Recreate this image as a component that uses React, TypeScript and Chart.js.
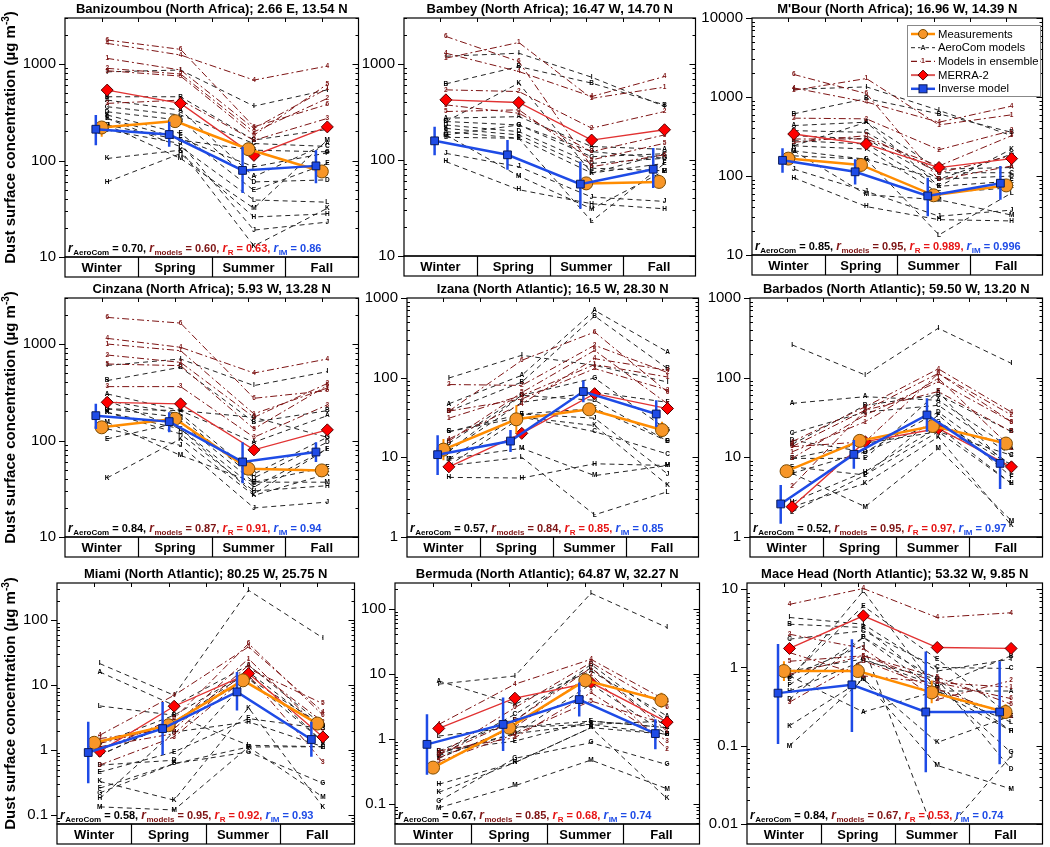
import React, { useEffect, useRef } from "react";
import { Chart, registerables } from "chart.js";
Chart.register(...registerables);

// ---------------- shared labels ----------------
const seasons = ["Winter", "Spring", "Summer", "Fall"];
const aeroComLetters = ["A", "B", "C", "D", "E", "F", "G", "H", "I", "J", "K", "L", "M"];
const ensembleLabels = ["1", "2", "3", "4", "5", "6"];

// ---------------- Banizoumbou ----------------
const banizoumbouMeas = [220, 256, 131, 77];
const banizoumbouMeasErr = [[176, 252], null, null, null];
const banizoumbouIM = [211, 186, 79, 88];
const banizoumbouIMErr = [[144, 296], [139, 252], [46, 139], [58, 128]];
const banizoumbouMerra = [537, 391, 113, 223];
const banizoumbouEnsemble = [
  [1145, 867, 215, 558],
  [902, 788, 198, 440],
  [391, 423, 162, 273],
  [1637, 1240, 682, 953],
  [852, 750, 183, 619],
  [1775, 1419, 224, 381],
];
const banizoumbouAeroCom = [
  [423, 333, 68, 150],
  [458, 458, 163, 210],
  [361, 296, 150, 140],
  [320, 262, 60, 63],
  [296, 191, 49, 93],
  [273, 169, 86, 120],
  [233, 163, 128, 123],
  [60, 118, 26, 28],
  [830, 867, 366, 540],
  [207, 150, 19, 23],
  [105, 128, 13, 32],
  [273, 139, 39, 37],
  [233, 105, 32, 163],
];
const banizoumbouR = ["0.70", "0.60", "0.63", "0.86"];

// ---------------- Bambey ----------------
const bambeyMeas = [null, null, 57, 59];
const bambeyMeasErr = [null, null, null, [52, 70]];
const bambeyIM = [158, 113, 56, 80];
const bambeyIMErr = [[112, 222], [79, 161], [31, 96], [51, 133]];
const bambeyMerra = [422, 396, 161, 206];
const bambeyEnsemble = [
  [1146, 1668, 437, 572],
  [536, 515, 214, 319],
  [374, 306, 122, 182],
  [1290, 832, 457, 738],
  [319, 332, 100, 149],
  [1928, 1057, 85, 113],
];
const bambeyAeroCom = [
  [272, 282, 138, 129],
  [619, 937, 630, 374],
  [251, 231, 108, 116],
  [231, 197, 92, 104],
  [213, 182, 82, 77],
  [197, 168, 73, 92],
  [182, 231, 122, 104],
  [96, 49, 35, 31],
  [1200, 1290, 726, 360],
  [117, 85, 41, 37],
  [251, 630, 73, 116],
  [172, 168, 23, 92],
  [182, 68, 31, 77],
];

// ---------------- M'Bour ----------------
const mbourMeas = [166, 138, 57, 76];
const mbourMeasErr = [null, null, null, null];
const mbourIM = [158, 113, 56, 81];
const mbourIMErr = [[110, 225], [78, 163], [31, 95], [50, 134]];
const mbourMerra = [340, 254, 128, 166];
const mbourEnsemble = [
  [1216, 1714, 443, 595],
  [540, 529, 215, 375],
  [294, 294, 134, 324],
  [1303, 864, 480, 767],
  [267, 324, 110, 180],
  [1928, 1104, 90, 134],
];
const mbourAeroCom = [
  [435, 480, 122, 128],
  [612, 953, 612, 357],
  [375, 357, 110, 110],
  [324, 294, 91, 100],
  [280, 254, 74, 86],
  [241, 219, 61, 71],
  [208, 163, 91, 189],
  [95, 41, 28, 27],
  [1250, 1343, 676, 324],
  [122, 64, 31, 37],
  [241, 480, 74, 219],
  [180, 163, 18, 61],
  [208, 58, 50, 32],
];
const mbourR = ["0.85", "0.95", "0.989", "0.996"];

// ---------------- Cinzana ----------------
const cinzanaMeas = [137, 168, 51, 49];
const cinzanaMeasErr = [null, null, null, [44, 56]];
const cinzanaIM = [181, 157, 60, 76];
const cinzanaIMErr = [[132, 240], [122, 196], [36, 96], [60, 96]];
const cinzanaMerra = [249, 240, 80, 129];
const cinzanaEnsemble = [
  [1000, 853, 189, 350],
  [769, 646, 174, 390],
  [362, 362, 108, 234],
  [1145, 925, 501, 700],
  [621, 597, 132, 371],
  [1888, 1648, 274, 329],
];
const cinzanaAeroCom = [
  [304, 204, 96, 181],
  [418, 574, 155, 204],
  [259, 189, 45, 108],
  [213, 174, 41, 96],
  [104, 155, 37, 53],
  [196, 132, 33, 82],
  [213, 204, 174, 108],
  [196, 117, 30, 34],
  [600, 700, 371, 518],
  [132, 89, 20, 23],
  [41, 104, 27, 45],
  [259, 132, 28, 82],
  [155, 70, 37, 37],
];
const cinzanaR = ["0.84", "0.87", "0.91", "0.94"];

// ---------------- Izana ----------------
const izanaMeas = [12.5, 30, 40, 22];
const izanaMeasErr = [[9.2, 17], [20, 45], [36, 45], [18, 28]];
const izanaIM = [10.8, 16, 67, 35];
const izanaIMErr = [[6, 19], [11.7, 22], [49, 92], [24, 52]];
const izanaMerra = [7.6, 20, 63, 41];
const izanaEnsemble = [
  [31, 60, 146, 102],
  [82, 80, 255, 116],
  [38, 54, 130, 70],
  [17, 47, 173, 124],
  [16, 65, 220, 47],
  [38, 165, 374, 66],
];
const izanaAeroCom = [
  [47, 107, 700, 210],
  [38, 88, 594, 130],
  [21, 32, 21, 11],
  [15, 60, 52, 16],
  [21, 35, 41, 16],
  [12, 49, 66, 49],
  [12, 60, 99, 22],
  [5.6, 5.5, 8.3, 7.9],
  [99, 191, 143, 88],
  [9.6, 35, 31, 6.2],
  [7.9, 32, 25, 4.5],
  [7.9, 10, 1.9, 3.7],
  [9.6, 13, 5.9, 7.9],
];
const izanaR = ["0.57", "0.84", "0.85", "0.85"];

// ---------------- Barbados ----------------
const barbadosMeas = [6.7, 16.1, 24.7, 14.9];
const barbadosMeasErr = [null, null, null, null];
const barbadosIM = [2.6, 10.9, 34, 8.4];
const barbadosIMErr = [[1.47, 4.5], [7.2, 16.5], [21, 55], [4, 17]];
const barbadosMerra = [2.4, 15.7, 23, 7.6];
const barbadosEnsemble = [
  [11.7, 28, 98, 13.2],
  [4.3, 39, 113, 34],
  [9.7, 34, 89, 28],
  [15.7, 43, 129, 37],
  [13.6, 39, 67, 21],
  [13.6, 15.7, 113, 28],
];
const barbadosAeroCom = [
  [47.6, 57.7, 52, 12.9],
  [14.5, 45, 61, 21],
  [20, 37, 45, 10.6],
  [16.4, 11.7, 37, 8],
  [9.7, 9.7, 66.8, 6.6],
  [7.6, 6, 34, 5.7],
  [6.3, 11.7, 28, 8],
  [2.75, 6.6, 24, 4.7],
  [258, 108, 417, 151],
  [9.7, 15, 21, 10.6],
  [2.4, 4.7, 18, 1.4],
  [2.06, 6, 21, 4.7],
  [6.3, 2.4, 12.9, 1.6],
];
const barbadosR = ["0.52", "0.95", "0.97", "0.97"];

// ---------------- Miami ----------------
const miamiMeas = [1.3, 2.42, 11.9, 2.57];
const miamiMeasErr = [null, null, null, null];
const miamiIM = [0.92, 2.15, 7.9, 1.46];
const miamiIMErr = [[0.31, 2.73], [0.84, 5.5], [4.1, 16], [0.79, 2.73]];
const miamiMerra = [0.96, 4.75, 15.1, 1.6];
const miamiEnsemble = [
  [1.27, 2.42, 25.6, 1.9],
  [1.51, 2.15, 20.3, 2.73],
  [0.59, 1.6, 14.3, 0.66],
  [1.7, 7, 39, 3.9],
  [1.13, 1.8, 18, 5.2],
  [1, 3.07, 43.8, 3.46],
];
const miamiAeroCom = [
  [16, 4.9, 20.3, 2.42],
  [1.27, 3.45, 16, 2.15],
  [0.84, 2.73, 12.7, 1.34],
  [0.59, 0.7, 12.7, 2.42],
  [0.46, 0.94, 3.07, 2.15],
  [0.26, 0.62, 1.12, 1.13],
  [0.22, 0.62, 0.94, 0.31],
  [0.18, 1.9, 2.73, 1.13],
  [21.5, 7, 290, 53.5],
  [0.84, 2.73, 16, 1.34],
  [0.33, 0.17, 4.5, 0.134],
  [4.8, 3.45, 1.19, 1.13],
  [0.134, 0.12, 1.12, 0.19],
];
const miamiR = ["0.58", "0.95", "0.92", "0.93"];

// ---------------- Bermuda ----------------
const bermudaMeas = [0.36, 1.48, 7.9, 3.9];
const bermudaMeasErr = [null, null, null, [3.0, 5.1]];
const bermudaIM = [0.82, 1.66, 4.0, 1.2];
const bermudaIMErr = [[0.28, 2.37], [0.65, 4.3], [2.2, 7.3], [0.69, 2.0]];
const bermudaMerra = [1.44, 4.2, 7.3, 1.8];
const bermudaEnsemble = [
  [0.57, 1.9, 12.3, 1.3],
  [0.51, 1.5, 9.8, 0.69],
  [0.65, 1.04, 5.1, 0.92],
  [1.66, 6.9, 16.6, 3.8],
  [0.45, 1.17, 3.8, 1.66],
  [0.57, 3.0, 14.8, 3.0],
];
const bermudaAeroCom = [
  [7.7, 3.4, 11, 2.23],
  [0.65, 1.9, 13.9, 1.87],
  [0.55, 2.37, 12.3, 1.48],
  [0.55, 1.2, 6.9, 1.17],
  [0.65, 0.92, 1.87, 1.48],
  [0.5, 1.5, 1.66, 1.17],
  [0.11, 0.5, 0.87, 0.4],
  [0.2, 0.43, 1.48, 1.17],
  [6.9, 9.2, 172, 51],
  [0.6, 1.2, 1.66, 1.87],
  [0.15, 0.43, 1.48, 0.12],
  [1.1, 1.5, 1.87, 1.48],
  [0.087, 0.19, 0.47, 0.17],
];
const bermudaR = ["0.67", "0.85", "0.68", "0.74"];

// ---------------- Mace Head ----------------
const maceHeadMeas = [0.9, 0.9, 0.48, 0.27];
const maceHeadMeasErr = [[0.67, 1.2], null, [0.35, 0.68], [0.22, 0.34]];
const maceHeadIM = [0.47, 0.6, 0.27, 0.27];
const maceHeadIMErr = [[0.105, 2.0], [0.15, 2.3], [0.046, 1.6], [0.058, 1.2]];
const maceHeadMerra = [1.75, 4.57, 1.8, 1.75];
const maceHeadEnsemble = [
  [1.55, 0.78, 0.64, 0.56],
  [2.66, 1.75, 0.39, 0.68],
  [0.36, 1.22, 0.53, 0.24],
  [6.4, 10.2, 4.35, 5.0],
  [1.2, 1.41, 0.75, 0.34],
  [0.82, 1.41, 0.64, 0.4],
];
const maceHeadAeroCom = [
  [0.78, 0.27, 0.5, 0.5],
  [3.57, 3.24, 0.58, 1.41],
  [2.3, 2.94, 1.0, 0.97],
  [0.39, 2.42, 0.71, 0.05],
  [0.75, 6.1, 1.28, 0.24],
  [0.6, 2.42, 0.5, 0.155],
  [0.9, 1.28, 0.58, 0.082],
  [0.5, 1.22, 0.71, 0.155],
  [4.35, 3.57, 0.9, 1.28],
  [0.78, 1.9, 0.006, 0.074],
  [0.18, 0.71, 0.11, 0.24],
  [0.7, 9.5, 0.5, 0.2],
  [0.1, 0.71, 0.056, 0.028],
];
const maceHeadR = ["0.84", "0.67", "0.53", "0.74"];

// ---------------- site table ----------------
const sites = [
  { title: "Banizoumbou (North Africa); 2.66 E, 13.54 N", meas: banizoumbouMeas, measErr: banizoumbouMeasErr, im: banizoumbouIM, imErr: banizoumbouIMErr, merra: banizoumbouMerra, ens: banizoumbouEnsemble, aero: banizoumbouAeroCom, r: banizoumbouR, yMin: 10, yMax: 3000, yTicks: [10, 100, 1000] },
  { title: "Bambey (North Africa); 16.47 W, 14.70 N", meas: bambeyMeas, measErr: bambeyMeasErr, im: bambeyIM, imErr: bambeyIMErr, merra: bambeyMerra, ens: bambeyEnsemble, aero: bambeyAeroCom, r: null, yMin: 10, yMax: 3000, yTicks: [10, 100, 1000] },
  { title: "M'Bour (North Africa); 16.96 W, 14.39 N", meas: mbourMeas, measErr: mbourMeasErr, im: mbourIM, imErr: mbourIMErr, merra: mbourMerra, ens: mbourEnsemble, aero: mbourAeroCom, r: mbourR, yMin: 10, yMax: 10000, yTicks: [10, 100, 1000, 10000] },
  { title: "Cinzana (North Africa); 5.93 W, 13.28 N", meas: cinzanaMeas, measErr: cinzanaMeasErr, im: cinzanaIM, imErr: cinzanaIMErr, merra: cinzanaMerra, ens: cinzanaEnsemble, aero: cinzanaAeroCom, r: cinzanaR, yMin: 10, yMax: 3000, yTicks: [10, 100, 1000] },
  { title: "Izana (North Atlantic); 16.5 W, 28.30 N", meas: izanaMeas, measErr: izanaMeasErr, im: izanaIM, imErr: izanaIMErr, merra: izanaMerra, ens: izanaEnsemble, aero: izanaAeroCom, r: izanaR, yMin: 1, yMax: 1000, yTicks: [1, 10, 100, 1000] },
  { title: "Barbados (North Atlantic); 59.50 W, 13.20 N", meas: barbadosMeas, measErr: barbadosMeasErr, im: barbadosIM, imErr: barbadosIMErr, merra: barbadosMerra, ens: barbadosEnsemble, aero: barbadosAeroCom, r: barbadosR, yMin: 1, yMax: 1000, yTicks: [1, 10, 100, 1000] },
  { title: "Miami (North Atlantic); 80.25 W, 25.75 N", meas: miamiMeas, measErr: miamiMeasErr, im: miamiIM, imErr: miamiIMErr, merra: miamiMerra, ens: miamiEnsemble, aero: miamiAeroCom, r: miamiR, yMin: 0.073, yMax: 375, yTicks: [0.1, 1, 10, 100] },
  { title: "Bermuda (North Atlantic); 64.87 W, 32.27 N", meas: bermudaMeas, measErr: bermudaMeasErr, im: bermudaIM, imErr: bermudaIMErr, merra: bermudaMerra, ens: bermudaEnsemble, aero: bermudaAeroCom, r: bermudaR, yMin: 0.049, yMax: 247, yTicks: [0.1, 1, 10, 100] },
  { title: "Mace Head (North Atlantic); 53.32 W, 9.85 N", meas: maceHeadMeas, measErr: maceHeadMeasErr, im: maceHeadIM, imErr: maceHeadIMErr, merra: maceHeadMerra, ens: maceHeadEnsemble, aero: maceHeadAeroCom, r: maceHeadR, yMin: 0.01, yMax: 12, yTicks: [0.01, 0.1, 1, 10] },
];

// ---------------- layout (plot-area frames in page pixels) ----------------
const frames = [
  { L: 65, R: 361, T: 18, B: 257, col: 0 },
  { L: 404, R: 698, T: 18, B: 256, col: 1 },
  { L: 752, R: 1046, T: 18, B: 255, col: 2 },
  { L: 65, R: 361, T: 298, B: 537, col: 0 },
  { L: 407, R: 701, T: 298, B: 537, col: 1 },
  { L: 750, R: 1046, T: 298, B: 537, col: 2 },
  { L: 57, R: 357, T: 583, B: 824, col: 0 },
  { L: 395, R: 702, T: 583, B: 824, col: 1 },
  { L: 747, R: 1046, T: 583, B: 824, col: 2 },
];

const FONT = "'Liberation Sans', Arial, Helvetica, sans-serif";
const BLUE = "rgb(30,75,230)";
const ORANGE = "rgb(255,140,0)";
const ORANGE_FILL = "rgb(247,150,40)";
const RED_LINE = "rgb(225,50,50)";
const RED = "rgb(230,20,20)";
const DARKRED = "rgb(125,20,20)";
const AERO = "rgb(35,35,35)";
const OFF_IM = 0.42;
const OFF_MEAS = 0.5;
const OFF_MODEL = 0.575;
const ROW_H = 20;

function drawRText(ctx: CanvasRenderingContext2D, x: number, y: number, vals: string[]) {
  const parts = [
    { sub: "AeroCom", color: "#000" },
    { sub: "models", color: DARKRED },
    { sub: "R", color: RED },
    { sub: "IM", color: BLUE },
  ];
  let cx = x;
  ctx.textBaseline = "alphabetic";
  ctx.textAlign = "left";
  parts.forEach((p, i) => {
    ctx.fillStyle = p.color;
    ctx.font = `italic bold 12px ${FONT}`;
    ctx.fillText("r", cx, y);
    cx += ctx.measureText("r").width + 0.5;
    ctx.font = `bold 8px ${FONT}`;
    ctx.fillText(p.sub, cx, y + 3);
    cx += ctx.measureText(p.sub).width;
    ctx.font = `bold 11px ${FONT}`;
    const t = ` = ${vals[i]}` + (i < 3 ? ", " : "");
    ctx.fillText(t, cx, y);
    cx += ctx.measureText(t).width;
  });
}

function drawMarker(ctx: CanvasRenderingContext2D, kind: string, x: number, y: number) {
  ctx.save();
  ctx.lineWidth = 1;
  if (kind === "circle") {
    ctx.fillStyle = ORANGE_FILL; ctx.strokeStyle = "#7a4a00";
    ctx.beginPath(); ctx.arc(x, y, 4.5, 0, Math.PI * 2); ctx.fill(); ctx.stroke();
  } else if (kind === "diamond") {
    ctx.fillStyle = "rgb(255,0,0)"; ctx.strokeStyle = "#500";
    ctx.beginPath(); ctx.moveTo(x, y - 5); ctx.lineTo(x + 5, y); ctx.lineTo(x, y + 5); ctx.lineTo(x - 5, y); ctx.closePath(); ctx.fill(); ctx.stroke();
  } else if (kind === "square") {
    ctx.fillStyle = BLUE; ctx.strokeStyle = "#0a1a5a";
    ctx.fillRect(x - 4, y - 4, 8, 8); ctx.strokeRect(x - 4, y - 4, 8, 8);
  }
  ctx.restore();
}

function drawLegend(ctx: CanvasRenderingContext2D, ox: number, oy: number) {
  const w = 133, h = 71;
  ctx.save();
  ctx.fillStyle = "#fff";
  ctx.fillRect(ox, oy, w, h);
  ctx.strokeStyle = "#888";
  ctx.lineWidth = 1;
  ctx.strokeRect(ox + 0.5, oy + 0.5, w, h);
  const rows = [
    { label: "Measurements", color: ORANGE, width: 2.5, dash: [] as number[], marker: "circle", tag: "" },
    { label: "AeroCom models", color: AERO, width: 1, dash: [4, 3], marker: "", tag: "A" },
    { label: "Models in ensemble", color: DARKRED, width: 1.2, dash: [6, 3, 2, 3], marker: "", tag: "1" },
    { label: "MERRA-2", color: "rgb(220,90,90)", width: 2, dash: [], marker: "diamond", tag: "" },
    { label: "Inverse model", color: BLUE, width: 2.5, dash: [], marker: "square", tag: "" },
  ];
  rows.forEach((r, i) => {
    const y = oy + 9 + i * 13.7;
    const x0 = ox + 4, x1 = ox + 28, xm = (x0 + x1) / 2;
    ctx.save();
    ctx.strokeStyle = r.color; ctx.lineWidth = r.width; ctx.setLineDash(r.dash);
    ctx.beginPath(); ctx.moveTo(x0, y); ctx.lineTo(x1, y); ctx.stroke();
    ctx.restore();
    if (r.marker) drawMarker(ctx, r.marker, xm, y);
    if (r.tag) {
      ctx.fillStyle = "#fff"; ctx.fillRect(xm - 2.5, y - 3.5, 5, 7);
      ctx.fillStyle = r.color; ctx.font = `bold 7px ${FONT}`;
      ctx.textAlign = "center"; ctx.textBaseline = "middle";
      ctx.fillText(r.tag, xm, y);
    }
    ctx.fillStyle = "#000"; ctx.font = `11.3px ${FONT}`;
    ctx.textAlign = "left"; ctx.textBaseline = "middle";
    ctx.fillText(r.label, ox + 31, y + 0.5);
  });
  ctx.restore();
}

function Panel({ site, frame, showLegend }: { site: any; frame: any; showLegend: boolean }) {
  const ref = useRef<HTMLCanvasElement | null>(null);
  const cl = frame.col === 0 ? 0 : frame.L - 52;
  const cr = Math.min(frame.R + 5, 1050);
  const ct = Math.max(frame.T - 22, 0);
  const cb = frame.B + 24;
  const w = cr - cl;
  const h = cb - ct;

  useEffect(() => {
    const canvas = ref.current;
    if (!canvas) return;
    const pts = (vals: (number | null)[], off: number) => vals.map((v, i) => ({ x: i + off, y: v }));
    const datasets: any[] = [];
    datasets.push({
      label: "Inverse model", data: pts(site.im, OFF_IM), borderColor: BLUE, borderWidth: 2.5,
      pointStyle: "rect", pointRadius: 5.5, pointBackgroundColor: BLUE, pointBorderColor: "#0a1a5a", pointBorderWidth: 1,
      errBars: site.imErr, errColor: BLUE, errWidth: 2.5,
    });
    datasets.push({
      label: "Measurements", data: pts(site.meas, OFF_MEAS), borderColor: ORANGE, borderWidth: 2.5,
      pointStyle: "circle", pointRadius: 6.5, pointBackgroundColor: ORANGE_FILL, pointBorderColor: "#7a4a00", pointBorderWidth: 1,
      errBars: site.measErr, errColor: ORANGE, errWidth: 2,
    });
    datasets.push({
      label: "MERRA-2", data: pts(site.merra, OFF_MODEL), borderColor: RED_LINE, borderWidth: 1.3,
      pointStyle: "rectRot", pointRadius: 6, pointBackgroundColor: "rgb(255,0,0)", pointBorderColor: "#500", pointBorderWidth: 1,
    });
    site.ens.forEach((vals: number[], k: number) =>
      datasets.push({
        label: "Model " + ensembleLabels[k], data: pts(vals, OFF_MODEL), borderColor: DARKRED, borderWidth: 1,
        borderDash: [7, 3, 2, 3], pointRadius: 0, tag: ensembleLabels[k], tagColor: DARKRED,
      })
    );
    site.aero.forEach((vals: number[], k: number) =>
      datasets.push({
        label: "AeroCom " + aeroComLetters[k], data: pts(vals, OFF_MODEL), borderColor: AERO, borderWidth: 1,
        borderDash: [5, 4], pointRadius: 0, tag: aeroComLetters[k], tagColor: "#000",
      })
    );

    const decor = {
      id: "decor",
      beforeDatasetDraw(chart: any, args: any) {
        const ds = chart.data.datasets[args.index];
        if (!ds.errBars) return;
        const ctx = chart.ctx;
        const y = chart.scales.y;
        const a = chart.chartArea;
        ctx.save();
        ctx.beginPath(); ctx.rect(a.left, a.top, a.right - a.left, a.bottom - a.top); ctx.clip();
        ctx.strokeStyle = ds.errColor; ctx.lineWidth = ds.errWidth;
        ds.errBars.forEach((e: any, i: number) => {
          if (!e) return;
          const p = args.meta.data[i];
          if (!p || isNaN(p.x)) return;
          ctx.beginPath();
          ctx.moveTo(p.x, y.getPixelForValue(e[0]));
          ctx.lineTo(p.x, y.getPixelForValue(e[1]));
          ctx.stroke();
        });
        ctx.restore();
      },
      afterDatasetDraw(chart: any, args: any) {
        const ds = chart.data.datasets[args.index];
        if (!ds.tag) return;
        const ctx = chart.ctx;
        const a = chart.chartArea;
        ctx.save();
        ctx.font = `bold 6.5px ${FONT}`;
        ctx.fillStyle = ds.tagColor;
        ctx.textAlign = "center";
        ctx.textBaseline = "middle";
        args.meta.data.forEach((p: any) => {
          if (!p || isNaN(p.y) || p.y < a.top || p.y > a.bottom) return;
          ctx.fillText(ds.tag, p.x, p.y);
        });
        ctx.restore();
      },
      afterDraw(chart: any) {
        const ctx: CanvasRenderingContext2D = chart.ctx;
        const a = chart.chartArea;
        const ys = chart.scales.y;
        const L = a.left, R = a.right, T = a.top, B = a.bottom;
        ctx.save();
        ctx.strokeStyle = "#000";
        ctx.lineWidth = 1.2;
        ctx.strokeRect(L, T, R - L, B - T);
        ctx.lineWidth = 1;
        const lo = Math.floor(Math.log10(site.yMin)), hi = Math.ceil(Math.log10(site.yMax));
        for (let e = lo; e <= hi; e++) {
          for (let m = 1; m <= 9; m++) {
            const v = m * Math.pow(10, e);
            if (v < site.yMin * 0.999 || v > site.yMax * 1.001) continue;
            const py = Math.round(ys.getPixelForValue(v)) + 0.5;
            ctx.beginPath();
            if (m === 1) {
              ctx.moveTo(L - 6, py); ctx.lineTo(L, py);
              ctx.moveTo(R, py); ctx.lineTo(R - 6, py);
            } else {
              ctx.moveTo(L, py); ctx.lineTo(L + 3, py);
              ctx.moveTo(R, py); ctx.lineTo(R - 3, py);
            }
            ctx.stroke();
          }
        }
        const xs = chart.scales.x;
        for (let k = 1; k < 8; k++) {
          const px = Math.round(xs.getPixelForValue(k * 0.5)) + 0.5;
          ctx.beginPath(); ctx.moveTo(px, T); ctx.lineTo(px, T + 4); ctx.stroke();
        }
        ctx.lineWidth = 1.2;
        ctx.strokeRect(L, B, R - L, ROW_H);
        const cw = (R - L) / 4;
        for (let k = 1; k < 4; k++) {
          const px = Math.round(L + k * cw) + 0.5;
          ctx.beginPath(); ctx.moveTo(px, B); ctx.lineTo(px, B + ROW_H); ctx.stroke();
        }
        ctx.fillStyle = "#000";
        ctx.font = `bold 13px ${FONT}`;
        ctx.textAlign = "center";
        ctx.textBaseline = "middle";
        seasons.forEach((s, i) => ctx.fillText(s, L + (i + 0.5) * cw, B + ROW_H / 2 + 1));
        ctx.font = `bold 13px ${FONT}`;
        ctx.fillText(site.title, (L + R) / 2, T - 9);
        if (site.r) drawRText(ctx, L + 3, B - 5, site.r);
        if (frame.col === 0) {
          ctx.save();
          ctx.translate(11, (T + B) / 2);
          ctx.rotate(-Math.PI / 2);
          ctx.textBaseline = "middle";
          ctx.textAlign = "left";
          const main = "Dust surface concentration (\u00b5g m";
          ctx.font = `bold 15px ${FONT}`;
          const w1 = ctx.measureText(main).width;
          ctx.font = `bold 10px ${FONT}`;
          const w2 = ctx.measureText("-3").width;
          ctx.font = `bold 15px ${FONT}`;
          const w3 = ctx.measureText(")").width;
          const x0 = -(w1 + w2 + w3) / 2;
          ctx.fillStyle = "#000";
          ctx.fillText(main, x0, 0);
          ctx.font = `bold 10px ${FONT}`;
          ctx.fillText("-3", x0 + w1, -5);
          ctx.font = `bold 15px ${FONT}`;
          ctx.fillText(")", x0 + w1 + w2, 0);
          ctx.restore();
        }
        if (showLegend) drawLegend(ctx, 907 - cl, 25 - ct);
        ctx.restore();
      },
    };

    const chart = new Chart(canvas, {
      type: "line",
      data: { datasets },
      options: {
        animation: false,
        responsive: false,
        maintainAspectRatio: false,
        spanGaps: false,
        layout: { padding: { top: frame.T - ct, right: cr - frame.R, left: 0, bottom: 0 } },
        plugins: { legend: { display: false }, tooltip: { enabled: false }, title: { display: false } },
        elements: { line: { tension: 0 } },
        scales: {
          x: {
            type: "linear", min: 0, max: 4,
            grid: { display: false, drawTicks: false },
            border: { display: false },
            ticks: { display: false },
            afterFit: (s: any) => { s.height = cb - frame.B; },
          },
          y: {
            type: "logarithmic", min: site.yMin, max: site.yMax,
            grid: { display: false, drawTicks: false },
            border: { display: false },
            ticks: {
              autoSkip: false, padding: 9, color: "#000",
              font: { family: FONT, size: 15 },
              callback: (v: any) => String(Number(v)),
            },
            afterBuildTicks: (s: any) => { s.ticks = site.yTicks.map((v: number) => ({ value: v })); },
            afterFit: (s: any) => { s.width = frame.L - cl; },
          },
        },
      } as any,
      plugins: [decor],
    });
    return () => chart.destroy();
  }, []);

  return (
    <canvas
      ref={ref}
      width={w}
      height={h}
      style={{ position: "absolute", left: cl, top: ct, width: w, height: h }}
    />
  );
}

export default function App() {
  return (
    <div style={{ position: "absolute", left: 0, top: 0, width: 1050, height: 847, background: "#fff", overflow: "hidden" }}>
      {sites.map((s, i) => (
        <Panel key={i} site={s} frame={frames[i]} showLegend={i === 2} />
      ))}
    </div>
  );
}
